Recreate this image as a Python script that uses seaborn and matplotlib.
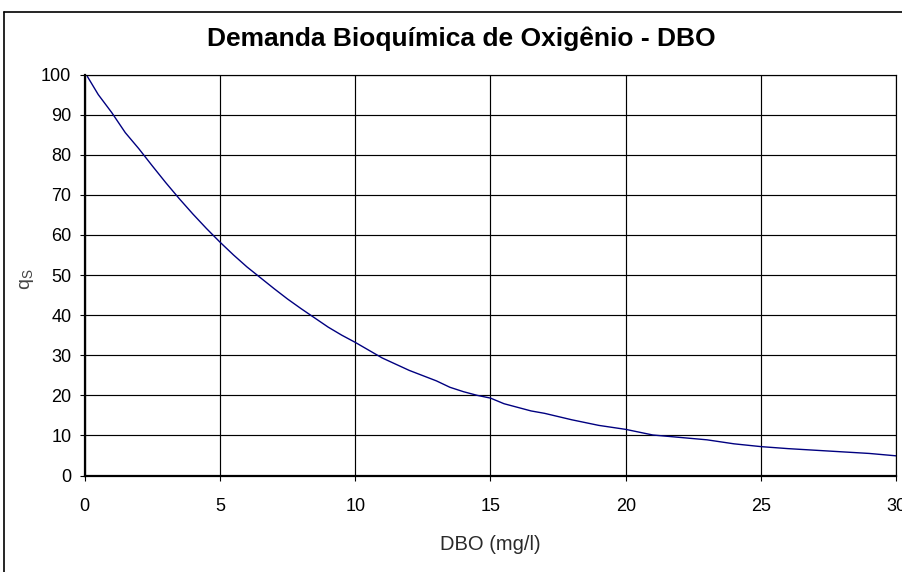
import matplotlib
matplotlib.use("Agg")
import matplotlib.pyplot as plt
from matplotlib.lines import Line2D
import pandas as pd
import seaborn as sns

# Curva de qualidade para DBO (qs em função da DBO em mg/l)
dbo = [0.1, 0.5, 1, 1.5, 2, 2.5, 3, 3.5, 4, 4.5, 5, 5.5, 6, 6.5, 7, 7.5, 8,
       8.5, 9, 9.5, 10, 11, 12, 13, 13.5, 14, 14.5, 15, 15.5, 16.5, 17, 18,
       19, 20, 21, 22, 23, 24, 25, 26, 27, 28, 29, 30]
qs = [99.5, 95.0, 90.5, 85.5, 81.5, 77.2, 73.0, 69.0, 65.2, 61.6, 58.2, 55.0,
      52.0, 49.3, 46.6, 44.0, 41.6, 39.3, 37.0, 35.0, 33.2, 29.3, 26.2, 23.6,
      22.0, 20.9, 20.0, 19.3, 17.9, 16.1, 15.5, 13.9, 12.5, 11.5, 10.1, 9.5,
      8.9, 7.9, 7.2, 6.7, 6.3, 5.9, 5.5, 4.9]

x_ticks = [0, 5, 10, 15, 20, 25, 30]
y_ticks = [0, 10, 20, 30, 40, 50, 60, 70, 80, 90, 100]

title = "Demanda Bioquímica de Oxigênio - DBO"
x_label = "DBO (mg/l)"
y_label = r"$\mathregular{q_S}$"

sns.set_style("white")
plt.rcParams["font.family"] = ["Liberation Sans", "DejaVu Sans"]

W, H = 903, 572
fig = plt.figure(figsize=(W / 100, H / 100), dpi=100)
fig.patch.set_facecolor("white")

left, right, top, bottom = 84.7, 896.3, 74.5, 475.5
ax = fig.add_axes([left / W, 1 - bottom / H, (right - left) / W, (bottom - top) / H])

df = pd.DataFrame({"DBO": dbo, "qs": qs})
sns.lineplot(data=df, x="DBO", y="qs", ax=ax, color="#000080", lw=1.0,
             sort=False, estimator=None)

ax.set_xlim(0, 30)
ax.set_ylim(0, 100)
ax.set_xticks(x_ticks)
ax.set_yticks(y_ticks)
ax.set_xticklabels([str(v) for v in x_ticks])
ax.set_yticklabels([str(v) for v in y_ticks])

ax.grid(True, color="black", lw=0.85)
ax.set_axisbelow(True)

for side in ["top", "right"]:
    ax.spines[side].set_visible(True)
    ax.spines[side].set_color("black")
    ax.spines[side].set_linewidth(0.85)
for side in ["left", "bottom"]:
    ax.spines[side].set_color("black")
    ax.spines[side].set_linewidth(1.6)

ax.tick_params(axis="both", which="major", direction="out", length=3.6,
               width=0.8, color="black", labelsize=13, labelcolor="black",
               bottom=True, left=True)
ax.tick_params(axis="y", pad=6)
ax.tick_params(axis="x", pad=12.5)

ax.set_xlabel(x_label, fontsize=14.5, color="#2a2a2a", va="center")
ax.xaxis.set_label_coords(0.5, (bottom - 544) / (bottom - top))
ax.set_ylabel(y_label, fontsize=14, color="#444444", va="center", ha="center")
ax.yaxis.set_label_coords((27.5 - left) / (right - left), 0.49)

fig.text(461 / W, 1 - 38.5 / H, title, ha="center", va="center",
         fontsize=19, fontweight="bold", color="black")

# moldura da área do gráfico
fig.add_artist(Line2D([4.5 / W, 4.5 / W], [1 - 11.5 / H, -0.05],
                      transform=fig.transFigure, color="black", lw=1.2))
fig.add_artist(Line2D([4.5 / W, 1.05], [1 - 11.5 / H, 1 - 11.5 / H],
                      transform=fig.transFigure, color="black", lw=1.2))

fig.savefig("out.png", dpi=100)
